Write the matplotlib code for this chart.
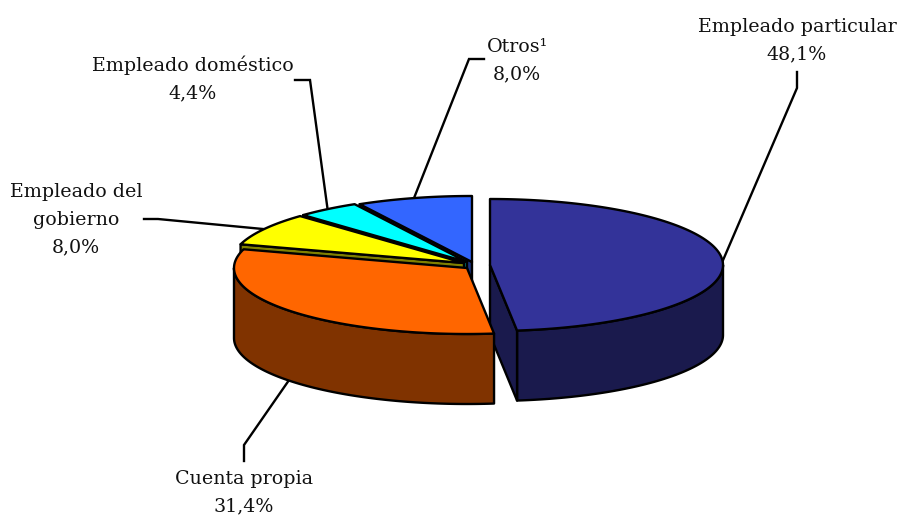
import numpy as np
import matplotlib
matplotlib.use('Agg')
import matplotlib.pyplot as plt
from matplotlib.patches import Polygon

plt.rcParams['font.family'] = 'DejaVu Serif'

# datos
labels = ['Empleado particular', 'Cuenta propia', 'Empleado del\ngobierno', 'Empleado doméstico', 'Otros¹']
values = [48.1, 31.4, 8.0, 4.4, 8.0]
value_labels = ['48,1%', '31,4%', '8,0%', '4,4%', '8,0%']

top_colors = ['#333399', '#FF6600', '#FFFF00', '#00FFFF', '#3366FF']
wall_colors = ['#1A1A4D', '#803300', '#808000', '#008080', '#1A3380']

# centro de cada porcion (separadas en el pastel) y tamaño, en pixeles
centers = [(490, 265), (467, 268), (464, 263), (467, 262), (472, 262)]
rx, ry = 233, 66
depth = 70

label_pos = [(797, 41), (244, 493), (76, 220), (193, 79), (517, 61)]
# codo de cada linea guia: extremo junto al texto, luego el quiebre
leader_ends = [(797, 72), (244, 461), (144, 219), (295, 80), (484, 59)]
leader_elbows = [(797, 88), (244, 445), (158, 219), (310, 80), (469, 59)]

lw = 1.7


def rim(center, ang):
    # angulo en grados, horario desde arriba
    a = np.radians(ang)
    return center[0] + rx * np.sin(a), center[1] - ry * np.cos(a)


def add_poly(ax, xs, ys, color):
    ax.add_patch(Polygon(np.column_stack([xs, ys]), closed=True, facecolor=color,
                         edgecolor='black', linewidth=lw, joinstyle='round'))


def draw_slice(ax, i, a0, a1):
    c = centers[i]
    # pared exterior, solo la parte de adelante
    s, e = max(a0, 90), min(a1, 270)
    if e > s:
        t = np.linspace(s, e, 120)
        x, y = rim(c, t)
        add_poly(ax, np.r_[x, x[::-1]], np.r_[y, y[::-1] + depth], wall_colors[i])
    # pared radial, solo la que mira hacia el frente
    for ang, visible in ((a0, a0 > 180), (a1, a1 < 180)):
        if visible:
            x, y = rim(c, ang)
            add_poly(ax, [c[0], x, x, c[0]], [c[1], y, y + depth, c[1] + depth], wall_colors[i])
    # tapa
    t = np.linspace(a0, a1, 200)
    x, y = rim(c, t)
    add_poly(ax, np.r_[c[0], x], np.r_[c[1], y], top_colors[i])


fig = plt.figure(figsize=(8.97, 5.15), dpi=100)
ax = fig.add_axes([0, 0, 1, 1])
ax.set_xlim(0, 897)
ax.set_ylim(515, 0)
ax.axis('off')

angles = np.r_[0, np.cumsum(values)] / np.sum(values) * 360

# de atras hacia adelante, cuenta propia tapa a la porcion separada
for i in [0, 4, 3, 2, 1]:
    draw_slice(ax, i, angles[i], angles[i + 1])

for i in range(len(values)):
    mid = (angles[i] + angles[i + 1]) / 2
    x, y = rim(centers[i], mid)
    if 90 < mid < 270:
        y += depth
    ax.plot([leader_ends[i][0], leader_elbows[i][0], x], [leader_ends[i][1], leader_elbows[i][1], y],
            color='black', linewidth=lw, solid_joinstyle='miter', zorder=0)
    ax.text(label_pos[i][0], label_pos[i][1], labels[i] + '\n' + value_labels[i], ha='center', va='center',
            fontsize=13.7, color='#111111', linespacing=1.68)

fig.savefig('out.png', dpi=100)
